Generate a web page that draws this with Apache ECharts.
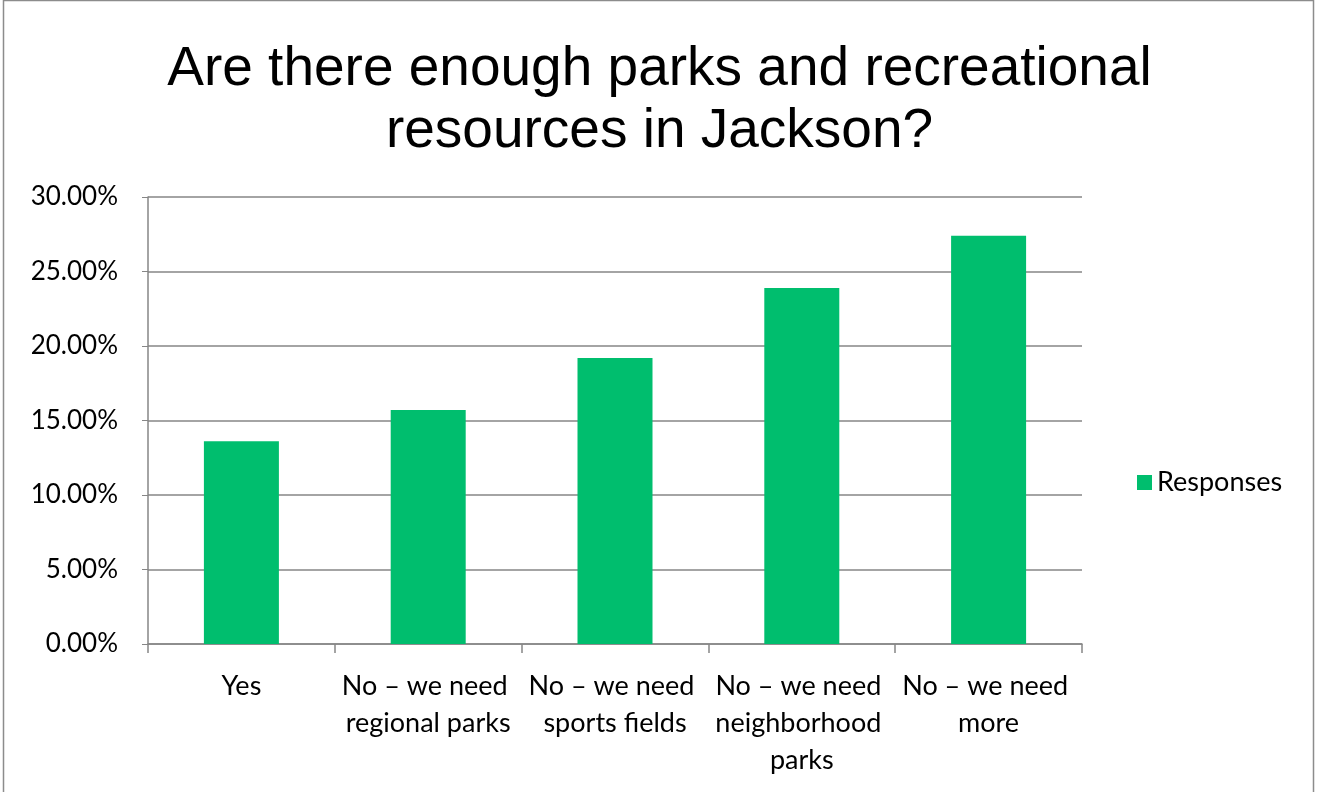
<!DOCTYPE html>
<html>
<head>
<meta charset="utf-8">
<script src="https://cdn.jsdelivr.net/npm/echarts@6/dist/echarts.min.js"></script>
<style>html,body{margin:0;padding:0;background:#fff}#c{width:1319px;height:792px}</style>
</head>
<body>
<div id="c"></div>
<script>
const titleText = 'Are there enough parks and recreational\nresources in Jackson?';
const categories = ['Yes', 'No – we need regional parks', 'No – we need sports fields', 'No – we need neighborhood parks', 'No – we need more'];
const seriesName = 'Responses';
const values = [13.6, 15.7, 19.2, 23.9, 27.4];
const yTicks = [0, 5, 10, 15, 20, 25, 30];

const chart = echarts.init(document.getElementById('c'));
chart.setOption({
  backgroundColor: '#fff',
  animation: false,
  graphic: [{
    type: 'rect', shape: {x: 3.5, y: 0.5, width: 1310, height: 800},
    style: {fill: 'none', stroke: '#8c8c8c', lineWidth: 1.5}, silent: true
  }],
  title: {
    text: titleText, left: 'center', top: 34,
    textStyle: {fontFamily: 'Liberation Sans', fontSize: 55, fontWeight: 'normal', color: '#000', lineHeight: 62}
  },
  legend: {
    orient: 'vertical', left: 1132, top: 464, itemWidth: 15, itemHeight: 15, itemGap: 8,
    icon: 'rect',
    textStyle: {fontFamily: 'Lato', fontSize: 27, color: '#000'},
    data: [seriesName]
  },
  grid: {left: 148, right: 237, top: 197, bottom: 148, containLabel: false},
  xAxis: {
    type: 'category', data: categories,
    axisLine: {lineStyle: {color: '#868686', width: 1.5}},
    axisTick: {show: true, length: 9, lineStyle: {color: '#868686', width: 1.5}},
    axisLabel: {
      interval: 0, margin: 24, width: 192, overflow: 'break',
      fontFamily: 'Lato', fontSize: 27, color: '#000', lineHeight: 37
    }
  },
  yAxis: {
    type: 'value', min: 0, max: 30, interval: 5,
    axisLine: {show: true, lineStyle: {color: '#868686', width: 1.5}},
    axisTick: {show: true, length: 6, inside: false, lineStyle: {color: '#868686'}},
    splitLine: {lineStyle: {color: '#868686', width: 1.5}},
    axisLabel: {
      margin: 30, fontFamily: 'Lato', fontSize: 26, color: '#000',
      formatter: v => yTicks.includes(v) ? v.toFixed(2) + '%' : ''
    }
  },
  series: [{
    name: seriesName, type: 'bar', data: values, barWidth: 75,
    itemStyle: {color: '#00BE6E'}
  }]
});
</script>
</body>
</html>
